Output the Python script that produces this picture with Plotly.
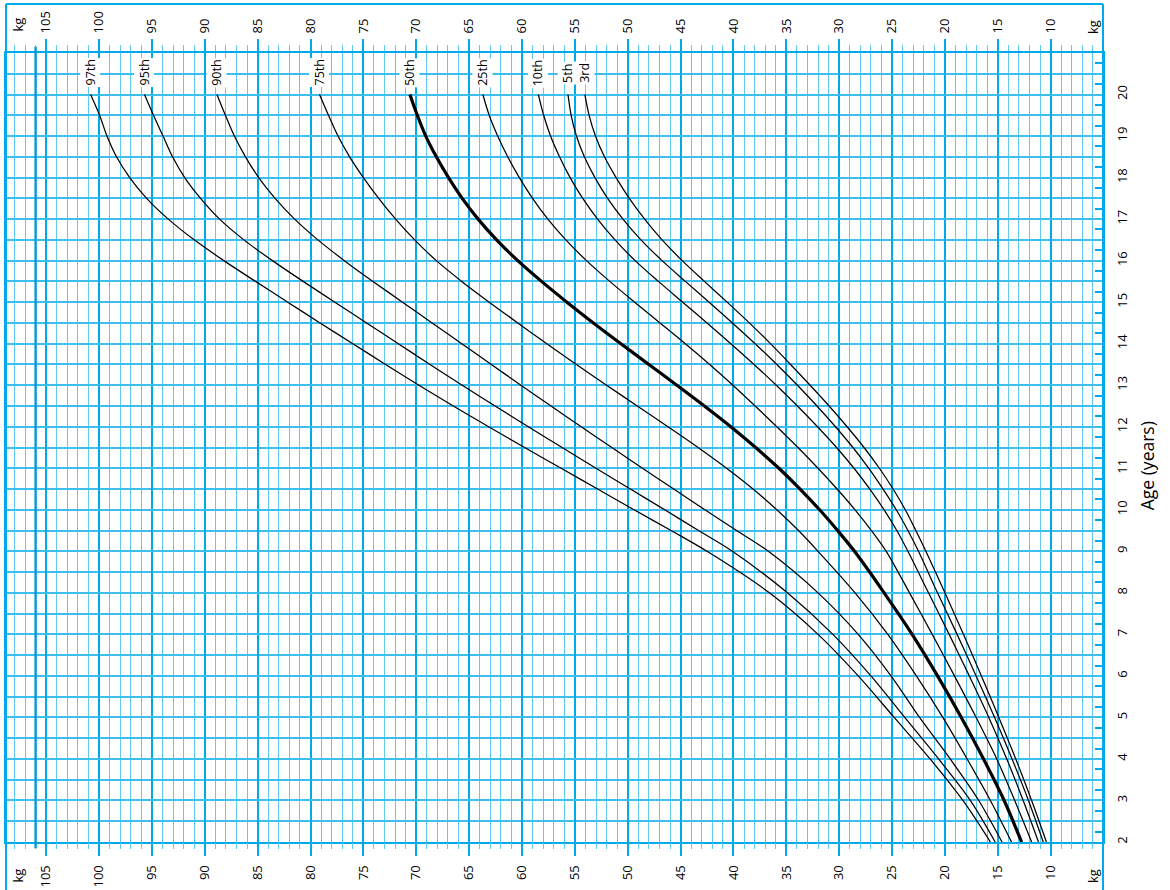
import plotly.graph_objects as go

# ---------------- data ----------------
ages = [2, 3, 4, 5, 6, 7, 8, 9, 9.5, 10, 10.5, 11, 11.5, 12, 12.5, 13, 13.5, 14,
        14.5, 15, 15.5, 16, 16.5, 17, 17.5, 18, 18.5, 19, 19.5, 20]

p97 = [15.7, 18.3, 21.4, 24.8, 28.2, 32.0, 36.6, 42.5, 45.9, 49.4, 52.85, 56.3, 59.75, 63.15, 66.5,
       69.75, 72.9, 76.0, 79.1, 82.15, 85.2, 88.2, 91.0, 93.45, 95.5, 97.1, 98.35, 99.25, 99.95, 100.8]
p95 = [15.25, 17.6, 20.6, 23.8, 27.0, 30.6, 34.9, 40.1, 43.3, 46.5, 49.75, 53.0, 56.2, 59.4, 62.55,
       65.65, 68.7, 71.7, 74.7, 77.7, 80.7, 83.6, 86.3, 88.6, 90.4, 91.9, 93.05, 93.95, 94.85, 95.7]
p90 = [14.6, 16.8, 19.5, 22.4, 25.1, 28.2, 32.0, 36.7, 39.7, 42.7, 45.65, 48.6, 51.5, 54.4, 57.25,
       60.1, 62.9, 65.7, 68.5, 71.3, 74.1, 76.8, 79.3, 81.5, 83.35, 84.9, 86.15, 87.2, 88.05, 88.85]
p75 = [13.7, 15.7, 17.9, 20.2, 22.7, 25.4, 28.5, 32.0, 33.85, 35.9, 38.15, 40.65, 43.35, 46.2, 49.1,
       52.0, 54.85, 57.65, 60.4, 63.1, 65.7, 68.1, 70.15, 71.95, 73.55, 75.0, 76.3, 77.4, 78.3, 79.15]
p50 = [12.75, 14.4, 16.35, 18.45, 20.7, 23.1, 25.75, 28.55, 30.15, 31.85, 33.7, 35.7, 37.9, 40.25, 42.75,
       45.35, 48.0, 50.65, 53.25, 55.75, 58.15, 60.4, 62.4, 64.15, 65.65, 66.95, 68.1, 69.1, 69.9, 70.6]
p25 = [11.8, 13.4, 15.1, 17.05, 19.1, 21.2, 23.35, 25.55, 26.95, 28.5, 30.2, 32.0, 33.9, 35.9, 37.95,
       40.05, 42.25, 44.55, 46.95, 49.35, 51.7, 53.9, 55.85, 57.55, 59.0, 60.25, 61.35, 62.3, 63.1, 63.7]
p10 = [11.15, 12.6, 14.15, 15.85, 17.7, 19.6, 21.55, 23.5, 24.55, 25.75, 27.1, 28.6, 30.25, 32.05, 33.95,
       35.95, 38.05, 40.25, 42.5, 44.8, 47.1, 49.3, 51.2, 52.85, 54.25, 55.45, 56.45, 57.3, 57.95, 58.45]
p5 = [10.7, 12.1, 13.65, 15.3, 17.05, 18.85, 20.7, 22.5, 23.5, 24.6, 25.85, 27.2, 28.7, 30.35, 32.1,
      33.95, 35.9, 37.95, 40.1, 42.3, 44.55, 46.75, 48.75, 50.45, 51.9, 53.1, 54.1, 54.85, 55.35, 55.65]
p3 = [10.4, 11.8, 13.3, 14.9, 16.55, 18.25, 20.0, 21.8, 22.75, 23.75, 24.9, 26.2, 27.65, 29.25, 30.95,
      32.75, 34.6, 36.5, 38.5, 40.6, 42.75, 44.85, 46.75, 48.4, 49.85, 51.1, 52.2, 53.05, 53.65, 54.05]

series_names = ["97th", "95th", "90th", "75th", "50th", "25th", "10th", "5th", "3rd"]
series_values = [p97, p95, p90, p75, p50, p25, p10, p5, p3]

age_ticks = list(range(2, 21))
age_inner_ticks = [a + 0.25 for a in [x * 0.5 for x in range(4, 42)]]

# ---------------- styling ----------------
FONT = "Open Sans"
BLUE = "#00A9EC"
BLUE_MINOR = "#5FC9F2"
BLUE_H = "#3CBEF0"

fig = go.Figure()

for name, vals in zip(series_names, series_values):
    fig.add_trace(go.Scatter(
        x=vals, y=ages, mode="lines", name=name,
        line=dict(color="black", width=3.2 if name == "50th" else 1.25, shape="spline", smoothing=0.9),
        showlegend=False, hoverinfo="skip"))

# dummy trace to activate secondary axes
fig.add_trace(go.Scatter(x=[None], y=[None], xaxis="x2", yaxis="y2",
                         showlegend=False, hoverinfo="skip"))

xrange = [108.8, 5.05]
yrange = [2, 21]

fig.update_layout(
    width=1170, height=890,
    margin=dict(l=6, r=67, t=53, b=48, autoexpand=False),
    paper_bgcolor="white", plot_bgcolor="white",
    font=dict(family=FONT, color="black", size=13),
    xaxis=dict(
        side="top", range=xrange, tickmode="linear", tick0=0, dtick=5,
        ticks="outside", ticklen=12, tickwidth=1.5, tickcolor=BLUE,
        tickangle=-90, tickfont=dict(size=13, family=FONT), ticklabelstandoff=3,
        showgrid=True, gridcolor=BLUE, gridwidth=1.6, zeroline=False, automargin=False,
        showline=True, linecolor=BLUE, linewidth=2, mirror=True,
        minor=dict(tick0=0, dtick=1, ticks="outside", ticklen=6, tickwidth=1.2,
                   tickcolor=BLUE_MINOR, showgrid=True, gridcolor=BLUE_MINOR, gridwidth=1.2),
    ),
    xaxis2=dict(
        overlaying="x", side="bottom", range=xrange, tickmode="linear", tick0=0, dtick=5,
        ticks="outside", ticklen=13, tickwidth=1.5, tickcolor=BLUE,
        tickangle=-90, tickfont=dict(size=13, family=FONT), ticklabelstandoff=4,
        showgrid=False, zeroline=False, showline=False, automargin=False,
        minor=dict(tick0=0, dtick=1, ticks="outside", ticklen=6, tickwidth=1.2,
                   tickcolor=BLUE_MINOR, showgrid=False),
    ),
    yaxis=dict(
        side="right", range=yrange, tickmode="array", tickvals=age_ticks,
        ticktext=[str(a) for a in age_ticks], ticks="",
        tickangle=-90, tickfont=dict(size=13, family=FONT), ticklabelstandoff=6,
        showgrid=True, gridcolor=BLUE_H, gridwidth=1.8, zeroline=False, automargin=False,
        showline=True, linecolor=BLUE, linewidth=2, mirror=True,
        minor=dict(tick0=0, dtick=0.5, showgrid=True, gridcolor=BLUE_H, gridwidth=1.8, ticks=""),
    ),
    yaxis2=dict(
        overlaying="y", side="right", range=yrange, tickmode="array",
        tickvals=age_inner_ticks, ticks="inside", ticklen=8, tickwidth=1.5, automargin=False,
        tickcolor=BLUE, showticklabels=False, showgrid=False, zeroline=False, showline=False,
    ),
)

# percentile labels above the curve ends
for name, vals in zip(series_names, series_values):
    fig.add_annotation(x=vals[-1], y=20.52, xref="x", yref="y", text=name,
                       xanchor="center", yanchor="middle",
                       textangle=-90, showarrow=False, bgcolor="white", borderpad=1,
                       font=dict(size=12.5, family=FONT, color="black"))

# unit labels
for xp, yp in [(0.0105, 1.0355), (0.9909, 1.033), (0.0105, -0.0431), (0.9909, -0.0431)]:
    fig.add_annotation(x=xp, y=yp, xref="paper", yref="paper", text="kg", textangle=-90,
                       xanchor="center", yanchor="middle",
                       showarrow=False, font=dict(size=13, family=FONT, color="black"))

fig.add_annotation(x=1.0401, y=0.4775, xref="paper", yref="paper", text="Age (years)",
                   xanchor="center", yanchor="middle",
                   textangle=-90, showarrow=False, font=dict(size=17.5, family=FONT, color="black"))

# heavier rule near the left edge of the grid and outer frame
fig.add_shape(type="line", xref="x", yref="paper", x0=106, x1=106, y0=-0.008, y1=1.008,
              line=dict(color="#0099DD", width=2.4), layer="above")
fig.add_shape(type="line", xref="paper", yref="paper", x0=0, x1=0, y0=-0.07, y1=1.0621,
              line=dict(color=BLUE, width=2))
fig.add_shape(type="line", xref="paper", yref="paper", x0=1, x1=1, y0=-0.07, y1=1.0621,
              line=dict(color=BLUE, width=2))
fig.add_shape(type="line", xref="paper", yref="paper", x0=0, x1=1, y0=1.0621, y1=1.0621,
              line=dict(color=BLUE, width=2))

fig.write_html("out.html", config={"displayModeBar": False},
               post_script="document.body.style.margin='0';document.body.style.overflow='hidden';")
